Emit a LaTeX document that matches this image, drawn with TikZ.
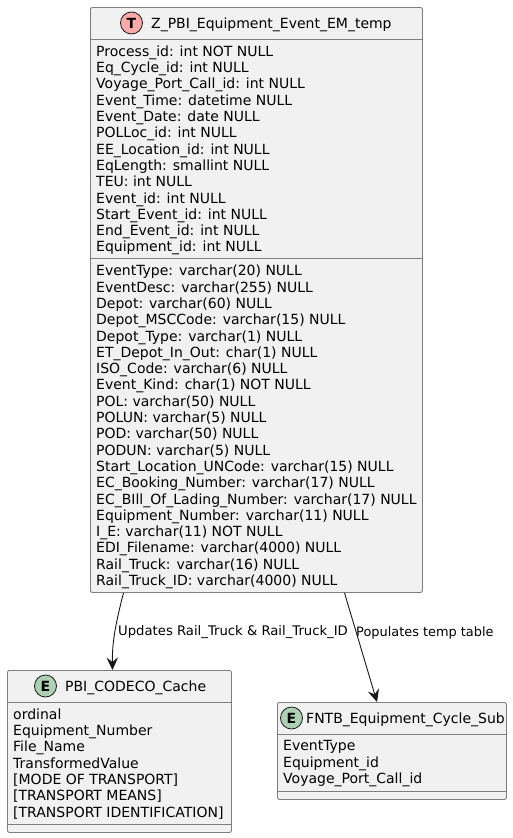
\documentclass[tikz,border=0pt]{standalone}
\usepackage{fontspec}
\setmainfont{DejaVu Sans}
\usetikzlibrary{arrows.meta}
\definecolor{boxfill}{HTML}{F1F1F1}
\definecolor{boxline}{HTML}{7E7E7E}
\definecolor{inkcol}{HTML}{181818}
\definecolor{spotT}{HTML}{FFAAAA}
\definecolor{spotE}{HTML}{ADD1B2}
\tikzset{
	entity/.style={draw=boxline,fill=boxfill,line width=0.9pt,rounded corners=2pt,anchor=north west,inner sep=0pt},
	sepline/.style={draw=boxline,line width=0.9pt},
	spot/.style={circle,draw=inkcol,line width=0.8pt,minimum size=22pt,inner sep=0pt,text=black,font=\fontsize{14}{14}\selectfont\bfseries},
	title/.style={anchor=west,inner sep=0pt,text=black,font=\fontsize{14}{16}\selectfont},
	fields/.style={anchor=north west,inner sep=0pt,align=left,text=black,font=\fontsize{14}{16.3}\selectfont},
	linklabel/.style={anchor=west,inner sep=0pt,text=black,font=\fontsize{13.2}{15}\selectfont},
	link/.style={draw=inkcol,line width=0.9pt,-{Stealth[length=12.5pt,width=11.5pt,inset=4.5pt]}}
}
\begin{document}
\begin{tikzpicture}[x=1pt,y=-1pt]
	\useasboundingbox (0,0) rectangle (512,838);
	% event table
	\node[entity,minimum width=332pt,minimum height=585pt] (eventbox) at (90,7) {};
	\node[spot,fill=spotT] (eventspot) at (131.5,23) {T};
	\node[title] (eventtitle) at (151,24.5) {Z\_PBI\_Equipment\_Event\_EM\_temp};
	\draw[sepline] (eventbox.west |- 0,39) coordinate (eventA) -- (eventA -| eventbox.east);
	\draw[sepline] (eventbox.west |- 0,258) coordinate (eventB) -- (eventB -| eventbox.east);
	\node[fields] (eventkeys) at (96,45.5) {Process\_id: int NOT NULL\\
		Eq\_Cycle\_id: int NULL\\
		Voyage\_Port\_Call\_id: int NULL\\
		Event\_Time: datetime NULL\\
		Event\_Date: date NULL\\
		POLLoc\_id: int NULL\\
		EE\_Location\_id: int NULL\\
		EqLength: smallint NULL\\
		TEU: int NULL\\
		Event\_id: int NULL\\
		Start\_Event\_id: int NULL\\
		End\_Event\_id: int NULL\\
		Equipment\_id: int NULL};
	\node[fields] (eventattrs) at (96,265) {EventType: varchar(20) NULL\\
		EventDesc: varchar(255) NULL\\
		Depot: varchar(60) NULL\\
		Depot\_MSCCode: varchar(15) NULL\\
		Depot\_Type: varchar(1) NULL\\
		ET\_Depot\_In\_Out: char(1) NULL\\
		ISO\_Code: varchar(6) NULL\\
		Event\_Kind: char(1) NOT NULL\\
		POL: varchar(50) NULL\\
		POLUN: varchar(5) NULL\\
		POD: varchar(50) NULL\\
		PODUN: varchar(5) NULL\\
		Start\_Location\_UNCode: varchar(15) NULL\\
		EC\_Booking\_Number: varchar(17) NULL\\
		EC\_BIll\_Of\_Lading\_Number: varchar(17) NULL\\
		Equipment\_Number: varchar(11) NULL\\
		I\_E: varchar(11) NOT NULL\\
		EDI\_Filename: varchar(4000) NULL\\
		Rail\_Truck: varchar(16) NULL\\
		Rail\_Truck\_ID: varchar(4000) NULL};
	% cache table
	\node[entity,minimum width=224pt,minimum height=162pt] (cachebox) at (7,670) {};
	\node[spot,fill=spotE] (cachespot) at (45.5,686) {E};
	\node[title] (cachetitle) at (65,687.5) {PBI\_CODECO\_Cache};
	\draw[sepline] (cachebox.west |- 0,702) coordinate (cacheA) -- (cacheA -| cachebox.east);
	\draw[sepline] (cachebox.west |- 0,824) coordinate (cacheB) -- (cacheB -| cachebox.east);
	\node[fields] (cacheattrs) at (13,708.5) {ordinal\\
		Equipment\_Number\\
		File\_Name\\
		TransformedValue\\
		{[}MODE OF TRANSPORT{]}\\
		{[}TRANSPORT MEANS{]}\\
		{[}TRANSPORT IDENTIFICATION{]}};
	% cycle table
	\node[entity,minimum width=229pt,minimum height=97pt] (cyclebox) at (277,702) {};
	\node[spot,fill=spotE] (cyclespot) at (291.5,718) {E};
	\node[title] (cycletitle) at (306,719.5) {FNTB\_Equipment\_Cycle\_Sub};
	\draw[sepline] (cyclebox.west |- 0,734) coordinate (cycleA) -- (cycleA -| cyclebox.east);
	\draw[sepline] (cyclebox.west |- 0,791) coordinate (cycleB) -- (cycleB -| cyclebox.east);
	\node[fields] (cycleattrs) at (283,740.5) {EventType\\
		Equipment\_id\\
		Voyage\_Port\_Call\_id};
	% links
	\draw[link] ([xshift=33.5pt]eventbox.south west) .. controls (116,622) and (112,642) .. (cachebox.north -| 112.5,0);
	\draw[link] ([xshift=254.5pt]eventbox.south west) -- (cyclebox.north -| 377,0);
	\node[linklabel] (cachelabel) at (118,632.5) {Updates Rail\_Truck \& Rail\_Truck\_ID};
	\node[linklabel,font=\fontsize{12.9}{15}\selectfont] (cyclelabel) at (356,632.5) {Populates temp table};
\end{tikzpicture}
\end{document}
